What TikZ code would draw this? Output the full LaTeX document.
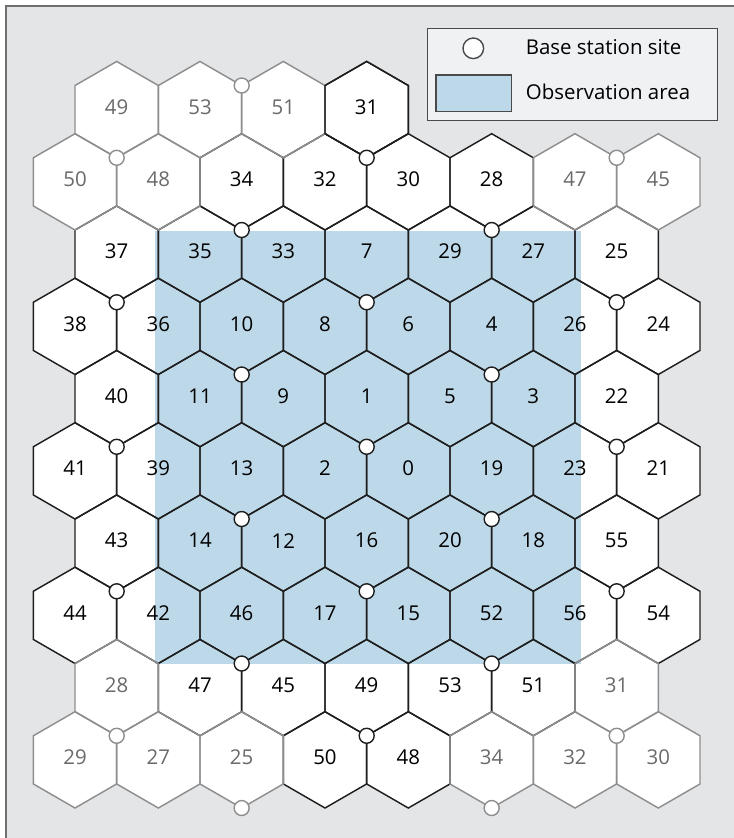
\documentclass[tikz,border=0pt]{standalone}
\usepackage{fontspec}
\setmainfont{Open Sans}
\definecolor{bgc}{HTML}{E4E5E7}
\definecolor{framec}{HTML}{6E6E6E}
\definecolor{obs}{HTML}{BDD8E8}
\definecolor{gline}{HTML}{8E8E8E}
\definecolor{gtext}{HTML}{6A6A6A}
\definecolor{legbg}{HTML}{F0F1F3}
\definecolor{legline}{HTML}{4A4A4A}
\definecolor{kline}{HTML}{1E1E1E}
\tikzset{
  hexk/.style={draw=kline, line width=1.45bp, line join=miter},
  hexg/.style={draw=gline, line width=1.45bp, line join=miter},
  lbl/.style={font=\fontsize{20.5}{24}\selectfont, inner sep=0pt},
  lblk/.style={lbl, text=black},
  lblg/.style={lbl, text=gtext},
  sitek/.style={circle, draw=kline, fill=white, line width=1.4bp, minimum size=15bp, inner sep=0pt},
  siteg/.style={sitek, draw=gline},
  legtext/.style={font=\fontsize{20.5}{24}\selectfont, inner sep=0pt, anchor=base west},
}
\newcommand\cellrows{%
0/{0/49/g,1/53/g,2/51/g,3/31/k},%
1/{0/50/g,1/48/g,2/34/k,3/32/k,4/30/k,5/28/k,6/47/g,7/45/g},%
2/{0/37/k,1/35/k,2/33/k,3/7/k,4/29/k,5/27/k,6/25/k},%
3/{0/38/k,1/36/k,2/10/k,3/8/k,4/6/k,5/4/k,6/26/k,7/24/k},%
4/{0/40/k,1/11/k,2/9/k,3/1/k,4/5/k,5/3/k,6/22/k},%
5/{0/41/k,1/39/k,2/13/k,3/2/k,4/0/k,5/19/k,6/23/k,7/21/k},%
6/{0/43/k,1/14/k,2/12/k,3/16/k,4/20/k,5/18/k,6/55/k},%
7/{0/44/k,1/42/k,2/46/k,3/17/k,4/15/k,5/52/k,6/56/k,7/54/k},%
8/{0/28/g,1/47/k,2/45/k,3/49/k,4/53/k,5/51/k,6/31/g},%
9/{0/29/g,1/27/g,2/25/g,3/50/k,4/48/k,5/34/g,6/32/g,7/30/g}}
\newcommand\cellpos{%
  \pgfmathsetmacro\cx{116.67-41.67*mod(\r,2)+83.33*\c}%
  \pgfmathsetmacro\cy{109.6+72.25*\r}}
\newcommand\forcells[1]{%
  \foreach \r/\cl in \cellrows {\foreach \c/\t/\s in \cl {\cellpos #1}}}
\def\hexat{(\cx,\cy) ++(0,-48.15) -- ++(41.68,24.08) -- ++(0,48.15) -- ++(-41.68,24.08) -- ++(-41.68,-24.08) -- ++(0,-48.15) -- cycle}
\begin{document}
\begin{tikzpicture}[x=1bp,y=-1bp]
\useasboundingbox (0,0) rectangle (734,838);
\fill[white] (0,0) rectangle (734,838);
\fill[bgc] (5,5) rectangle (734,838);
\draw[framec, line width=1.8bp] (5.9,838) -- (5.9,5.9) -- (734,5.9);
% cell fills
\forcells{\fill[white] \hexat;}
% observation area
\fill[obs] (154.5,230.5) rectangle (581,663.5);
% outlines
\forcells{\if k\s \draw[hexk] \hexat; \fi}
\forcells{\if g\s \draw[hexg] \hexat; \fi}
\foreach \r/\c in {0/3} {\cellpos \draw[hexk] \hexat;}
% labels
\forcells{\if g\s \node[lblg] (c\r-\c) at (\cx,\cy-2.5) {\t}; \else \node[lblk] (c\r-\c) at (\cx,\cy-2.5) {\t}; \fi}
% base station sites
\foreach \r/\c/\s in {0/1/g,1/0/g,1/3/k,1/6/g,2/1/k,2/4/k,3/0/k,3/3/k,3/6/k,4/1/k,4/4/k,5/0/k,5/3/k,5/6/k,6/1/k,6/4/k,7/0/k,7/3/k,7/6/k,8/1/k,8/4/k,9/0/g,9/3/k,9/6/g}{%
  \cellpos
  \if g\s \node[siteg] (s\r-\c) at (\cx+41.68,\cy-24.08) {};
  \else \node[sitek] (s\r-\c) at (\cx+41.68,\cy-24.08) {}; \fi}
\foreach \r/\c in {9/2,9/5}{%
  \cellpos \node[siteg] (b\r-\c) at (\cx,\cy+48.15) {};}
% legend
\node[draw=legline, fill=legbg, line width=1.2bp, minimum width=289.6bp, minimum height=92.4bp, inner sep=0pt] (legend) at (572.5,74.5) {};
\node[sitek, draw=legline, minimum size=20.6bp] (legsite) at (473.3,48.3) {};
\node[draw=legline, fill=obs, line width=1.2bp, minimum width=75.7bp, minimum height=36.7bp, inner sep=0pt] (legobs) at (473.85,93.35) {};
\node[legtext] (legt1) at (525.7,54.5) {Base station site};
\node[legtext] (legt2) at (525.7,99.5) {Observation area};
\end{tikzpicture}
\end{document}
